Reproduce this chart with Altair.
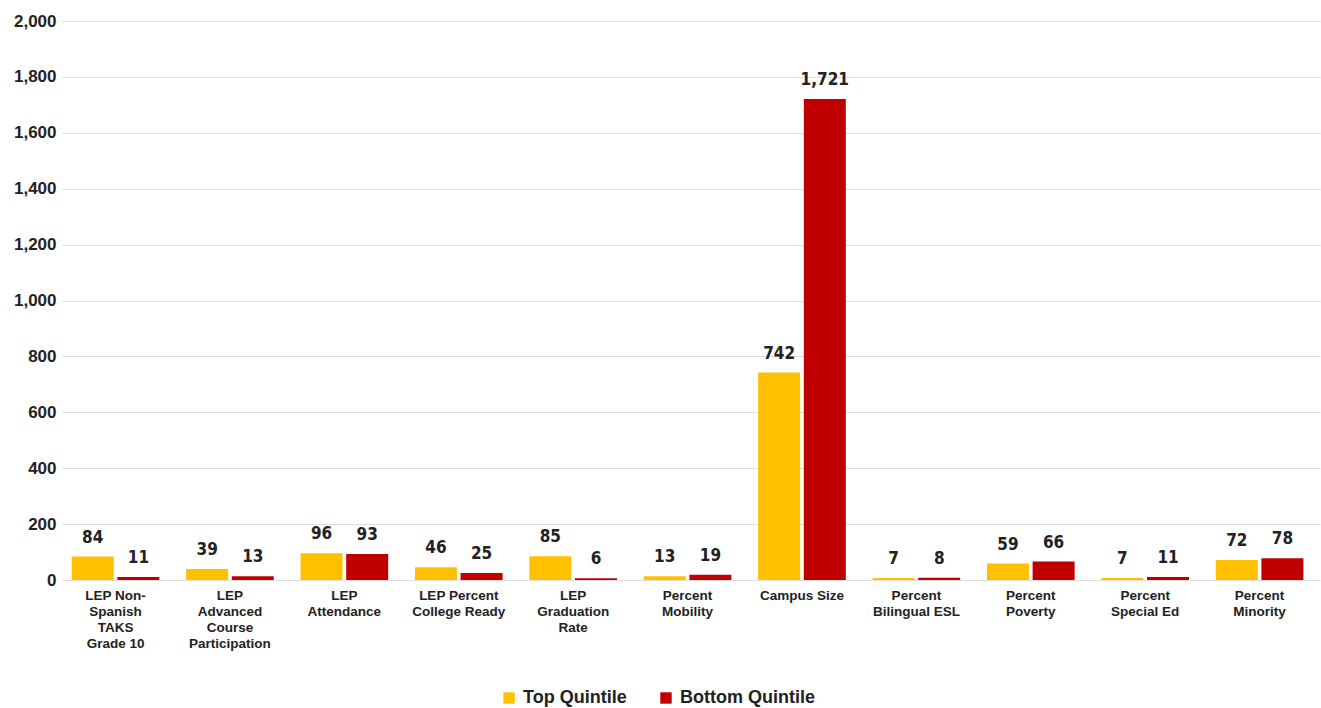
import altair as alt
import pandas as pd

categories = [
    "LEP Non-|Spanish|TAKS|Grade 10",
    "LEP|Advanced|Course|Participation",
    "LEP|Attendance",
    "LEP Percent|College Ready",
    "LEP|Graduation|Rate",
    "Percent|Mobility",
    "Campus Size",
    "Percent|Bilingual ESL",
    "Percent|Poverty",
    "Percent|Special Ed",
    "Percent|Minority",
]
top_quintile = [84, 39, 96, 46, 85, 13, 742, 7, 59, 7, 72]
bottom_quintile = [11, 13, 93, 25, 6, 19, 1721, 8, 66, 11, 78]
series = ["Top Quintile", "Bottom Quintile"]
colors = ["#FFC000", "#C00000"]

rows = []
for c, t, b in zip(categories, top_quintile, bottom_quintile):
    rows.append({"category": c, "series": series[0], "value": t})
    rows.append({"category": c, "series": series[1], "value": b})
df = pd.DataFrame(rows)

xscale = alt.Scale(paddingInner=0.234, paddingOuter=0.115, align=0.37)
xenc = alt.X("category:N", sort=categories, scale=xscale,
             axis=alt.Axis(title=None, labelAngle=0, labelExpr="split(datum.label, '|')",
                           labelFont="Liberation Sans", labelFontWeight="bold",
                           labelFontSize=13.5, labelColor="#222222", labelLineHeight=16,
                           labelPadding=8, ticks=False, domain=False, labelBaseline="top"))
xoff = alt.XOffset("series:N", sort=series, scale=alt.Scale(paddingInner=0.08))
yenc = alt.Y("value:Q", scale=alt.Scale(domain=[0, 2000]),
             axis=alt.Axis(title=None, values=list(range(0, 2001, 200)), format=",.0f",
                           labelFont="Liberation Sans", labelFontWeight="bold",
                           labelFontSize=17, labelColor="#222222", labelPadding=6,
                           ticks=False, domain=False, gridColor="#dddddd"))

bars = alt.Chart(df).mark_bar().encode(
    x=xenc, xOffset=xoff, y=yenc,
    color=alt.Color("series:N", sort=series,
                    scale=alt.Scale(domain=series, range=colors),
                    legend=alt.Legend(title=None, orient="none", direction="horizontal",
                                      legendX=438, legendY=668, symbolType="square",
                                      symbolSize=130, symbolStrokeWidth=0,
                                      labelFont="Liberation Sans", labelFontWeight="bold",
                                      labelFontSize=18, labelColor="#222222",
                                      columnPadding=30, labelOffset=5)),
)

labels = alt.Chart(df).mark_text(
    baseline="bottom", dy=-10, font="DejaVu Sans Condensed, Liberation Sans Narrow, Liberation Sans, sans-serif",
    fontWeight="bold", fontSize=17, color="#222222"
).encode(
    x=alt.X("category:N", sort=categories, scale=xscale),
    xOffset=alt.XOffset("series:N", sort=series, scale=alt.Scale(paddingInner=0.08)),
    y="value:Q",
    text=alt.Text("value:Q", format=","),
)

chart = alt.layer(bars, labels).properties(
    width=1258, height=559,
    autosize=alt.AutoSizeParams(type="none"),
    padding={"left": 62, "top": 21, "right": 1, "bottom": 128},
).configure_view(stroke=None)

chart.save("out.html", embed_options={"renderer": "svg", "actions": False})
